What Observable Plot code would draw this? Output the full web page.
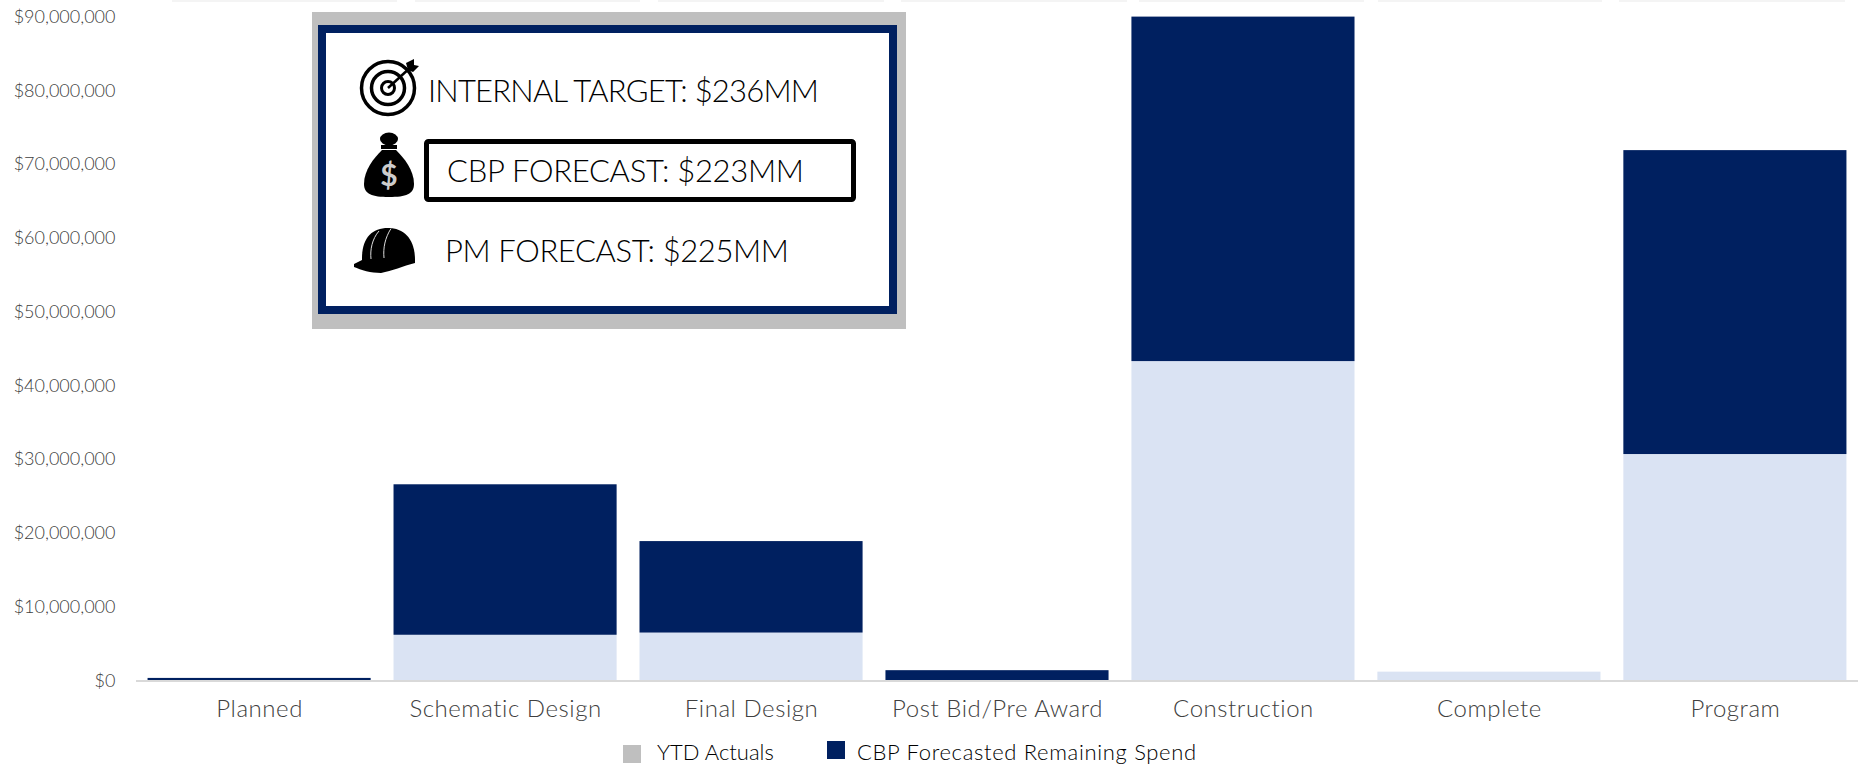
<!DOCTYPE html>
<html>
<head>
<meta charset="utf-8">
<script src="https://cdn.jsdelivr.net/npm/d3@7"></script>
<script src="https://cdn.jsdelivr.net/npm/@observablehq/plot@0.6"></script>
<style>
html,body{margin:0;padding:0;background:#fff;overflow:hidden}
#wrap{position:relative;width:1860px;height:765px;font-family:Lato,"Open Sans",sans-serif}
#legend{position:absolute;left:0;top:735px;width:1860px;height:30px;color:#000;font-size:22px;font-weight:300}
#legend span{position:absolute;white-space:nowrap;line-height:26px}
#legend i{position:absolute;display:block;width:18px;height:18px}
#callout{position:absolute;left:0;top:0;pointer-events:none}
#callout text{font-family:Lato,sans-serif;font-weight:300;font-size:31px;fill:#000}
g[aria-label="x-axis tick label"]{letter-spacing:.55px}
</style>
</head>
<body>
<div id="wrap">
  <div id="chart"></div>
  <div id="legend"></div>
</div>
<script>
const categories = ["Planned","Schematic Design","Final Design","Post Bid/Pre Award","Construction","Complete","Program"];
const ytdActuals = [0, 6.2e6, 6.5e6, 0, 43.3e6, 1.2e6, 30.7e6];
const remainingSpend = [0.35e6, 20.4e6, 12.4e6, 1.4e6, 46.7e6, 0, 41.2e6];
const yTicks = [0,10e6,20e6,30e6,40e6,50e6,60e6,70e6,80e6,90e6];
const seriesNames = ["YTD Actuals","CBP Forecasted Remaining Spend"];
const barColors = ["#DAE3F3","#002060"];
const legendColors = ["#BFBFBF","#002060"];
const calloutLines = ["INTERNAL TARGET: $236MM","CBP FORECAST: $223MM","PM FORECAST: $225MM"];

const rows = [
  ...categories.map((c,i)=>({category:c,series:seriesNames[0],value:ytdActuals[i]})),
  ...categories.map((c,i)=>({category:c,series:seriesNames[1],value:remainingSpend[i]}))
];

const chart = Plot.plot({
  width:1860,height:735,
  marginLeft:136,marginRight:2,marginTop:16.6,marginBottom:54.5,
  style:{fontFamily:"Lato, sans-serif",background:"#fff"},
  x:{domain:categories,paddingInner:0.093,paddingOuter:0.047,round:false,label:null},
  y:{domain:[0,90e6],label:null},
  color:{domain:seriesNames,range:barColors},
  marks:[
    Plot.barY(rows,{x:"category",y:"value",fill:"series",order:seriesNames}),
    Plot.ruleY([0],{stroke:"#D9D9D9",strokeWidth:2}),
    Plot.axisY({ticks:yTicks,tickSize:0,tickPadding:21,fontSize:18,fontWeight:300,fill:"#404040",
      tickFormat:d=>"$"+d3.format(",")(d),label:null}),
    Plot.axisX({tickSize:0,tickPadding:19,fontSize:24,fontWeight:300,fill:"#404040",label:null})
  ]
});
document.getElementById("chart").appendChild(chart);

// legend below the SVG
document.getElementById("legend").innerHTML =
  `<i style="left:623px;top:10px;background:${legendColors[0]}"></i><span style="left:657px;top:4px">${seriesNames[0]}</span>`+
  `<i style="left:827px;top:6px;background:${legendColors[1]}"></i><span style="left:857px;top:4px;letter-spacing:.67px">${seriesNames[1]}</span>`;

// decorative callout overlaid on the chart
const wrap=document.getElementById("wrap");
const ov=document.createElement("div");
ov.id="callout";
ov.innerHTML=`<svg width="1860" height="735" xmlns="http://www.w3.org/2000/svg">
 <g fill="#F4F4F4">
  <rect x="172" y="0" width="225" height="2"/><rect x="415" y="0" width="225" height="2"/>
  <rect x="658" y="0" width="226" height="2"/><rect x="901" y="0" width="226" height="2"/>
  <rect x="1139" y="0" width="225" height="2"/><rect x="1378" y="0" width="224" height="2"/>
  <rect x="1619" y="0" width="226" height="2"/>
 </g>
 <rect x="312" y="12" width="594" height="317" fill="#BFBFBF"/>
 <rect x="322" y="29" width="571" height="281" fill="#fff" stroke="#002060" stroke-width="8"/>
 <rect x="426.5" y="141.5" width="427" height="58" rx="2" fill="#fff" stroke="#000" stroke-width="5"/>
 <text x="428" y="102" textLength="391">${calloutLines[0]}</text>
 <text x="447" y="182" textLength="357">${calloutLines[1]}</text>
 <text x="445" y="262" textLength="344">${calloutLines[2]}</text>
 <g fill="none" stroke="#000">
  <circle cx="388" cy="88" r="26.5" stroke-width="3.5"/>
  <circle cx="388" cy="88" r="16.5" stroke-width="3.5"/>
  <circle cx="388" cy="88" r="6.5" stroke-width="3"/>
  <path d="M388 88L412 66" stroke-width="2.5"/>
 </g>
 <path d="M408 70L406 63L414 59L414 65L419 66L413 72Z" fill="#000"/>
 <ellipse cx="389" cy="139" rx="9" ry="6.5" fill="#000"/>
 <rect x="381" y="145" width="16" height="4" fill="#000"/>
 <path d="M382 150C374 158 364 170 364 184C364 194 372 197 389 197C406 197 414 194 414 184C414 170 404 158 396 150Z" fill="#000"/>
 <text x="389" y="186" text-anchor="middle" style="font-family:Lato,sans-serif;font-size:30px;font-weight:700;fill:#ccc">$</text>
 <path d="M362 258C362 238 372 228 388 228C405 228 415 240 415 260L362 262Z" fill="#000"/>
 <path d="M354 264L364 259L415 259L415 263C403 266 392 271 381 273C371 273 361 270 354 267Z" fill="#000"/>
 <path d="M379 231C372 239 370 250 371 259M391 228.500C385 238 383 248 384 258" fill="none" stroke="#ddd" stroke-width="1"/>
</svg>`;
wrap.appendChild(ov);
</script>
</body>
</html>
